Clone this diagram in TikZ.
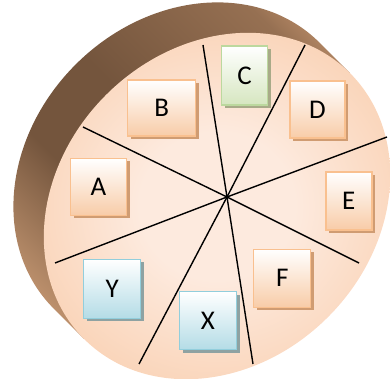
\documentclass[tikz,border=0pt]{standalone}
\usepackage{fontspec}
\setmainfont{Carlito}
\usepackage{tikz}
\usetikzlibrary{shadows}
\usepackage{xcolor}
\definecolor{sideEnd}{RGB}{238,180,136}
\definecolor{sideMid}{RGB}{178,136,102}
\definecolor{sideDark}{RGB}{116,85,61}
\definecolor{sideTop}{RGB}{150,112,82}
\definecolor{faceIn}{RGB}{253,234,222}
\definecolor{faceOut}{RGB}{247,192,150}
\definecolor{peachEdge}{RGB}{249,192,143}
\definecolor{peachFill}{RGB}{248,204,168}
\definecolor{peachShade}{RGB}{208,156,114}
\definecolor{greenEdge}{RGB}{188,216,158}
\definecolor{greenFill}{RGB}{214,230,192}
\definecolor{greenShade}{RGB}{168,170,136}
\definecolor{blueEdge}{RGB}{146,206,220}
\definecolor{blueFill}{RGB}{180,220,230}
\definecolor{blueShade}{RGB}{142,162,162}
\pgfdeclareradialshading{facepeach}{\pgfpoint{0bp}{0bp}}{color(0bp)=(faceIn); color(10bp)=(faceIn); color(40bp)=(faceOut); color(50bp)=(faceOut)}
\pgfdeclarehorizontalshading{sidebrown}{100bp}{color(0bp)=(sideEnd); color(16bp)=(sideEnd); color(28bp)=(sideMid); color(40bp)=(sideDark); color(52bp)=(sideDark); color(72bp)=(sideTop); color(84bp)=(sideEnd); color(100bp)=(sideEnd)}

\begin{document}
\begin{tikzpicture}[
    x=1pt, y=1pt,
    tile/.style={rectangle, draw=#1Edge, line width=1.5pt, top color=white, bottom color=#1Fill, minimum width=57pt, minimum height=58pt, font=\fontsize{27}{27}\selectfont, drop shadow={shadow xshift=3pt, shadow yshift=-3pt, fill=#1Shade, opacity=1}},
    spoke/.style={black, line width=1.4pt},
    disc/.style={shift={(186.6,203.4)}, rotate=45},
]
    \useasboundingbox (0,0) rectangle (390,379);

    % Disc: side (clipped gradient) and face
    \begin{scope}
        \clip[disc] (188,0) arc[start angle=0, end angle=180, x radius=188, y radius=157] -- (-188,-43) -- (188,-43) -- cycle;
        \shade[shading=sidebrown, shading angle=45] (0,0) rectangle (390,379);
    \end{scope}
    \shade[disc, shading=facepeach] (0,-43) ellipse[x radius=188, y radius=157];

    % Spokes
    \coordinate (hub) at (227,182);
    \coordinate (s1a) at (203,334);
    \coordinate (s1b) at (253,15);
    \coordinate (s2a) at (305,334);
    \coordinate (s2b) at (139,15);
    \coordinate (s3a) at (387,242);
    \coordinate (s3b) at (55,116);
    \coordinate (s4a) at (83,252);
    \coordinate (s4b) at (359,116);
    \draw[spoke] (s1a) -- (hub) -- (s1b);
    \draw[spoke] (s2a) -- (hub) -- (s2b);
    \draw[spoke] (s3a) -- (hub) -- (s3b);
    \draw[spoke] (s4a) -- (hub) -- (s4b);

    % Tiles
    \node[tile=peach, minimum width=68pt, minimum height=56pt] (B) at (161.7,271.1) {B};
    \node[tile=green, minimum width=46pt, minimum height=59pt] (C) at (244.5,303.5) {C};
    \node[tile=peach, minimum width=55pt, minimum height=57pt] (D) at (317.3,269.3) {D};
    \node[tile=peach, minimum width=56pt, minimum height=57pt] (A) at (98.5,192) {A};
    \node[tile=peach, minimum width=46pt, minimum height=58pt] (E) at (348.8,178.2) {E};
    \node[tile=peach] (F) at (282.2,100.7) {F};
    \node[tile=blue, minimum height=59pt] (Y) at (112.2,90.2) {Y};
    \node[tile=blue] (X) at (208,58.3) {X};

\end{tikzpicture}
\end{document}
